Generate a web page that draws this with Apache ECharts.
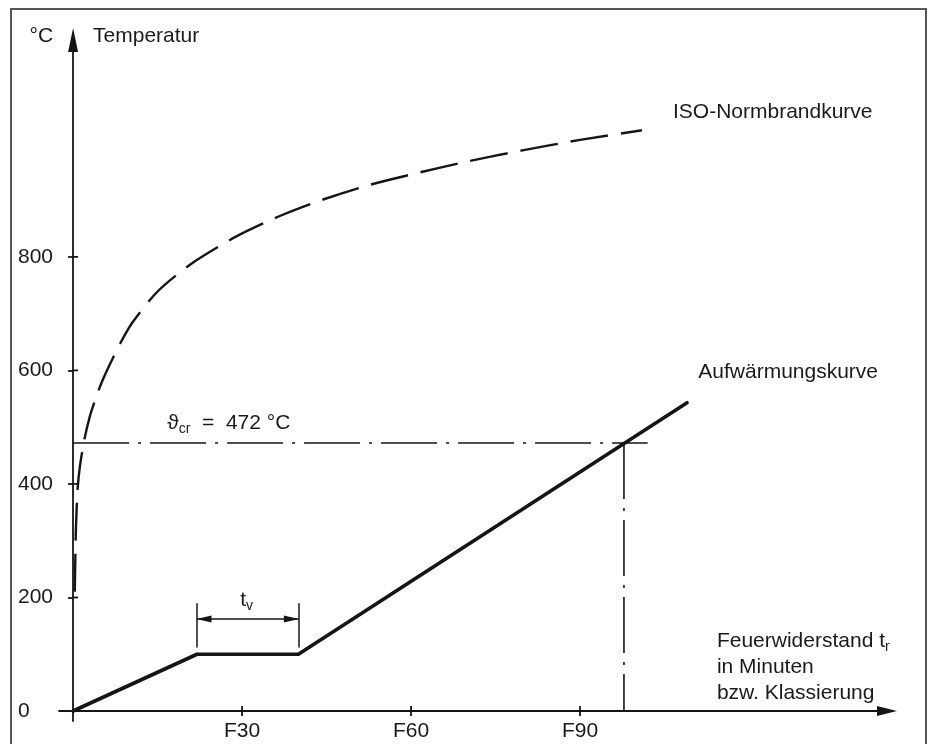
<!DOCTYPE html>
<html><head><meta charset="utf-8">
<script src="https://cdn.jsdelivr.net/npm/echarts@6/dist/echarts.min.js"></script>
<style>html,body{margin:0;padding:0;background:#fff}#c{width:929px;height:744px}</style>
</head><body><div id="c"></div>
<script>
// ISO-Normbrandkurve (Einheitstemperaturzeitkurve)
const isoTime = [0.3, 0.5, 0.8, 1.2, 2, 3, 4, 5, 6.6, 8.5, 10.5, 15, 21, 29, 36.7, 43.5, 52, 60, 70, 80, 90, 101];
const isoTemp = [210, 320, 390, 430, 478, 520, 550, 577, 612, 650, 684, 739, 788, 836, 872, 898, 925, 945, 968, 988, 1006, 1023];
// Aufwärmungskurve
const heatTime = [0, 22, 40, 109];
const heatTemp = [0, 100, 100, 543];
// kritische Temperatur
const critTemp = 472;
const critTime = 97.8;
const critLineEndTime = 102;
// Verzögerungszeit t_v
const tvStart = 22;
const tvEnd = 40;
// Achsen
const yTicks = [0, 200, 400, 600, 800];
const xTicks = [30, 60, 90];
const xTickLabels = ['F30', 'F60', 'F90'];

const FONT = 'Liberation Sans, Arial, Helvetica, sans-serif';
const INK = '#151515';
const TXT = '#1a1a1a';

const zip = (a, b) => a.map((v, i) => [v, b[i]]);
const dashDot = [56, 9, 3, 9];

const chart = echarts.init(document.getElementById('c'), null, {renderer: 'canvas'});
const xMin = -2.5, xMax = 144.5, yMin = -17.6, yMax = 1182;

const baseText = {fontFamily: FONT, fontSize: 21, color: TXT};
const rich = {
  a: {fontFamily: FONT, fontSize: 21, color: TXT, lineHeight: 26, verticalAlign: 'middle', textBorderWidth: 0},
  s: {fontFamily: FONT, fontSize: 14, color: TXT, lineHeight: 10, verticalAlign: 'bottom', textBorderWidth: 0}
};

// inner halves of the crossing axis ticks (tick value, axis: 0 = x, 1 = y)
const innerTicks = xTicks.map(v => [v, 0, 0]).concat(yTicks.filter(v => v > 0).map(v => [0, v, 1]));

chart.setOption({
  animation: false,
  backgroundColor: '#ffffff',
  grid: {left: 59, right: 42, top: 40, bottom: 23, outerBoundsMode: 'none', containLabel: false},
  graphic: [{
    type: 'rect', silent: true, z: -10,
    shape: {x: 11, y: 9, width: 915, height: 800},
    style: {fill: 'none', stroke: '#555', lineWidth: 2}
  }],
  xAxis: [{
    type: 'value', min: xMin, max: xMax,
    axisLine: {onZero: true, symbol: ['none', 'triangle'], symbolSize: [10, 20],
      lineStyle: {color: INK, width: 1.8}},
    axisTick: {show: true, length: 5, customValues: xTicks, lineStyle: {color: INK, width: 1.8}},
    axisLabel: Object.assign({customValues: xTicks, margin: 0,
      formatter: v => xTickLabels[xTicks.indexOf(v)]}, baseText),
    splitLine: {show: false}
  }, {
    type: 'value', min: xMin, max: xMax, show: true,
    axisLine: {show: false, onZero: true},
    axisTick: {show: false},
    axisLabel: {show: false},
    splitLine: {show: false}
  }],
  yAxis: [{
    type: 'value', min: yMin, max: yMax,
    name: 'Temperatur', nameLocation: 'end', nameGap: 4,
    nameTextStyle: Object.assign({align: 'left', verticalAlign: 'middle', padding: [0, 0, 0, 20]}, baseText),
    axisLine: {onZero: true, symbol: ['none', 'triangle'], symbolSize: [10, 24],
      lineStyle: {color: INK, width: 1.8}},
    axisTick: {show: true, length: 5, customValues: yTicks, lineStyle: {color: INK, width: 1.8}},
    axisLabel: Object.assign({customValues: yTicks, margin: 41, align: 'left'}, baseText),
    splitLine: {show: false}
  }, {
    type: 'value', min: yMin, max: yMax,
    name: '°C', nameLocation: 'end', nameGap: 4,
    nameTextStyle: Object.assign({align: 'right', verticalAlign: 'middle', padding: [0, 20, 0, 0]}, baseText),
    axisLine: {show: false, onZero: true},
    axisTick: {show: false},
    axisLabel: {show: false},
    splitLine: {show: false}
  }],
  series: [{
    name: 'ISO-Normbrandkurve', type: 'line',
    data: zip(isoTime, isoTemp),
    showSymbol: false, smooth: 0.25,
    lineStyle: {color: INK, width: 2.4, type: [38, 13]}
  }, {
    name: 'Aufwärmungskurve', type: 'line',
    data: zip(heatTime, heatTemp),
    showSymbol: false,
    lineStyle: {color: INK, width: 3.6, cap: 'round', join: 'round'}
  }, {
    name: 'kritisch-h', type: 'line',
    data: [[0, critTemp], [critLineEndTime, critTemp]],
    showSymbol: false,
    lineStyle: {color: INK, width: 1.6, type: dashDot}
  }, {
    name: 'kritisch-v', type: 'line',
    data: [[critTime, critTemp], [critTime, 0]],
    showSymbol: false,
    lineStyle: {color: INK, width: 1.6, type: dashDot}
  }, {
    name: 'tv', type: 'line', data: [],
    markLine: {
      silent: true, animation: false,
      label: {show: false},
      lineStyle: {color: INK, width: 1.5, type: 'solid'},
      symbol: ['none', 'none'],
      data: [
        [{coord: [tvStart, 112]}, {coord: [tvStart, 190]}],
        [{coord: [tvEnd, 112]}, {coord: [tvEnd, 190]}],
        [{coord: [tvStart, 162], symbol: 'triangle', symbolSize: [7, 15], symbolOffset: [0, 7]},
         {coord: [tvEnd, 162], symbol: 'triangle', symbolSize: [7, 15], symbolOffset: [0, 7]}]
      ]
    }
  }, {
    name: 'innerTicks', type: 'custom', silent: true,
    data: innerTicks,
    renderItem: (params, api) => {
      const p = api.coord([api.value(0), api.value(1)]);
      const isX = api.value(2) === 0;
      return {
        type: 'line',
        shape: isX ? {x1: p[0], y1: p[1], x2: p[0], y2: p[1] - 5} : {x1: p[0], y1: p[1], x2: p[0] + 5, y2: p[1]},
        style: {stroke: INK, lineWidth: 1.8}
      };
    }
  }, {
    name: 'labels', type: 'scatter', symbolSize: 0, silent: true,
    itemStyle: {opacity: 1},
    data: [
      {value: [106.5, 1054], label: {position: 'right', distance: 0, formatter: '{a|ISO-Normbrandkurve}'}},
      {value: [111, 596], label: {position: 'right', distance: 0, formatter: '{a|Aufwärmungskurve}'}},
      {value: [16.7, 507], label: {position: 'right', distance: 0, formatter: '{a|ϑ}{s|cr}{a|  =  472 °C}'}},
      {value: [30.8, 196], label: {position: 'inside', formatter: '{a|t}{s|v}'}},
      {value: [114.3, 77.5], label: {position: 'right', distance: 0,
        formatter: '{a|Feuerwiderstand t}{s|r}\n{a|in Minuten}\n{a|bzw. Klassierung}'}}
    ],
    label: {show: true, color: TXT, opacity: 1, textBorderWidth: 0, rich: rich}
  }]
});
</script>
</body></html>
